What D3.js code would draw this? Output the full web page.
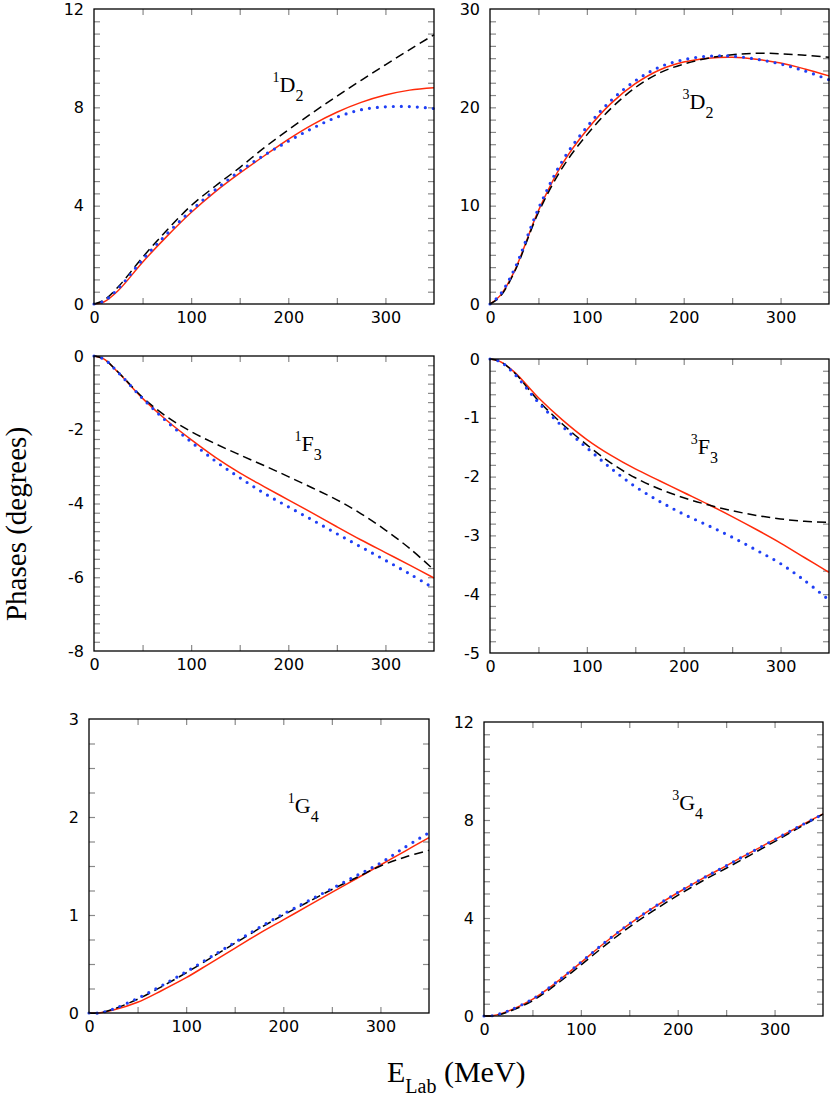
<!DOCTYPE html>
<html lang="en">
<head>
<meta charset="UTF-8">
<title>Phases (degrees) vs E_Lab</title>
<script src="https://d3js.org/d3.v7.min.js"></script>
<style>
    body { margin: 0; background: #fff; }
    svg { display: block; }
    .tick text { font-family: "DejaVu Sans", sans-serif; font-size: 16px; fill: #000; }
    .tick line { stroke: #8a8a8a; stroke-width: 1.2px; }
    .serif { font-family: "Liberation Serif", "Times New Roman", serif; fill: #000; }
</style>
</head>
<body>
<svg width="830" height="1098"></svg>
<script>
    // lab energies (MeV) where the curves were read
    const energies = [0, 10, 25, 50, 75, 100, 125, 150, 175, 200, 225, 250, 275, 300, 325, 350];
    const xTickLabels = [0, 100, 200, 300];

    // 1D2
    const dashed1D2 = [0, 0.15, 0.7, 1.9, 3.0, 4.0, 4.8, 5.55, 6.35, 7.08, 7.78, 8.45, 9.1, 9.73, 10.35, 10.95];
    const solid1D2  = [0, 0.08, 0.55, 1.7, 2.75, 3.72, 4.57, 5.32, 6.02, 6.7, 7.3, 7.8, 8.2, 8.5, 8.7, 8.8];
    const dotted1D2 = [0, 0.11, 0.63, 1.8, 2.85, 3.8, 4.65, 5.4, 6.05, 6.62, 7.15, 7.6, 7.9, 8.02, 8.03, 7.95];
    const yLabels1D2 = [0, 4, 8, 12];

    // 3D2
    const dashed3D2 = [0, 0.7, 3.2, 9.3, 13.9, 17.2, 19.9, 22.0, 23.5, 24.4, 25.0, 25.35, 25.5, 25.45, 25.3, 25.1];
    const solid3D2  = [0, 0.8, 3.3, 9.5, 14.3, 17.7, 20.4, 22.4, 23.8, 24.6, 25.0, 25.1, 24.9, 24.5, 23.9, 23.2];
    const dotted3D2 = [0, 0.9, 3.5, 9.7, 14.6, 18.0, 20.7, 22.7, 24.1, 24.85, 25.2, 25.2, 24.9, 24.4, 23.7, 22.8];
    const yLabels3D2 = [0, 10, 20, 30];

    // 1F3
    const dashed1F3 = [0, -0.08, -0.44, -1.12, -1.65, -2.05, -2.38, -2.68, -2.97, -3.27, -3.58, -3.9, -4.28, -4.72, -5.22, -5.8];
    const solid1F3  = [0, -0.08, -0.45, -1.15, -1.75, -2.27, -2.75, -3.17, -3.54, -3.9, -4.26, -4.63, -4.99, -5.33, -5.67, -6.02];
    const dotted1F3 = [0, -0.08, -0.45, -1.15, -1.78, -2.33, -2.85, -3.3, -3.72, -4.09, -4.45, -4.82, -5.18, -5.54, -5.91, -6.3];
    const yLabels1F3 = [0, -2, -4, -6, -8];

    // 3F3
    const dashed3F3 = [0, -0.04, -0.23, -0.71, -1.11, -1.46, -1.77, -2.02, -2.21, -2.36, -2.48, -2.58, -2.66, -2.72, -2.76, -2.78];
    const solid3F3  = [0, -0.04, -0.22, -0.66, -1.04, -1.37, -1.64, -1.87, -2.07, -2.27, -2.47, -2.68, -2.9, -3.13, -3.38, -3.63];
    const dotted3F3 = [0, -0.04, -0.25, -0.74, -1.15, -1.51, -1.86, -2.17, -2.42, -2.64, -2.83, -3.03, -3.25, -3.48, -3.77, -4.1];
    const yLabels3F3 = [0, -1, -2, -3, -4, -5];

    // 1G4
    const dashed1G4 = [0, 0, 0.04, 0.14, 0.27, 0.41, 0.56, 0.71, 0.86, 1.0, 1.13, 1.26, 1.38, 1.5, 1.59, 1.66];
    const solid1G4  = [0, 0, 0.03, 0.11, 0.23, 0.36, 0.51, 0.66, 0.81, 0.95, 1.09, 1.23, 1.37, 1.51, 1.65, 1.79];
    const dotted1G4 = [0, 0, 0.04, 0.15, 0.28, 0.42, 0.57, 0.72, 0.87, 1.01, 1.14, 1.27, 1.4, 1.53, 1.69, 1.84];
    const yLabels1G4 = [0, 1, 2, 3];

    // 3G4
    const dashed3G4 = [0, 0.01, 0.17, 0.62, 1.3, 2.08, 2.88, 3.63, 4.3, 4.92, 5.5, 6.03, 6.57, 7.12, 7.68, 8.24];
    const solid3G4  = [0, 0.02, 0.2, 0.68, 1.38, 2.18, 3.0, 3.75, 4.42, 5.03, 5.6, 6.13, 6.67, 7.2, 7.73, 8.25];
    const dotted3G4 = [0, 0.02, 0.21, 0.69, 1.39, 2.19, 3.01, 3.76, 4.43, 5.04, 5.6, 6.13, 6.67, 7.2, 7.73, 8.24];
    const yLabels3G4 = [0, 4, 8, 12];

    const svg = d3.select("svg");

    // panel layout (pixels) and where the wave label sits (data units)
    const panels = [
        { spin: "1", L: "D", J: "2", left: 94, top: 9, w: 340, h: 295, yLabels: yLabels1D2, minor: 0.5,
          dashed: dashed1D2, solid: solid1D2, dotted: dotted1D2, labelAt: [191, 8.62] },
        { spin: "3", L: "D", J: "2", left: 490, top: 9, w: 339, h: 295, yLabels: yLabels3D2, minor: 1.25,
          dashed: dashed3D2, solid: solid3D2, dotted: dotted3D2, labelAt: [206, 19.86] },
        { spin: "1", L: "F", J: "3", left: 94, top: 356, w: 340, h: 295, yLabels: yLabels1F3, minor: 0.25,
          dashed: dashed1F3, solid: solid1F3, dotted: dotted1F3, labelAt: [213.5, -2.57] },
        { spin: "3", L: "F", J: "3", left: 490, top: 359, w: 339, h: 294, yLabels: yLabels3F3, minor: 0.2,
          dashed: dashed3F3, solid: solid3F3, dotted: dotted3F3, labelAt: [214.4, -1.61] },
        { spin: "1", L: "G", J: "4", left: 89, top: 719, w: 340, h: 294, yLabels: yLabels1G4, minor: 0.25,
          dashed: dashed1G4, solid: solid1G4, dotted: dotted1G4, labelAt: [211.8, 2.04] },
        { spin: "3", L: "G", J: "4", left: 484, top: 722, w: 339, h: 294, yLabels: yLabels3G4, minor: 0.5,
          dashed: dashed3G4, solid: solid3G4, dotted: dotted3G4, labelAt: [201.5, 8.41] }
    ];

    panels.forEach(p => {
        const g = svg.append("g").attr("transform", `translate(${p.left},${p.top})`);
        const yExt = d3.extent(p.yLabels);

        const x = d3.scaleLinear().domain([0, 350]).range([0, p.w]);
        const y = d3.scaleLinear().domain(yExt).range([p.h, 0]);

        const xTicks = d3.range(50, 350, 50);
        const yTicks = d3.range(yExt[0] + p.minor, yExt[1] - p.minor / 2, p.minor);

        // inward ticks on all four sides
        g.append("g").attr("transform", `translate(0,${p.h})`)
            .call(d3.axisTop(x).tickValues(xTicks).tickSize(6).tickFormat(""));
        g.append("g")
            .call(d3.axisBottom(x).tickValues(xTicks).tickSize(6).tickFormat(""));
        g.append("g")
            .call(d3.axisRight(y).tickValues(yTicks).tickSize(6).tickFormat(""));
        g.append("g").attr("transform", `translate(${p.w},0)`)
            .call(d3.axisLeft(y).tickValues(yTicks).tickSize(6).tickFormat(""));
        g.selectAll(".domain").remove();

        // labels (plain hyphen for negatives, as in the original)
        g.append("g").attr("transform", `translate(0,${p.h})`)
            .call(d3.axisBottom(x).tickValues(xTickLabels).tickSize(0).tickPadding(8).tickFormat(d => String(d)))
            .call(a => a.select(".domain").remove());
        g.append("g")
            .call(d3.axisLeft(y).tickValues(p.yLabels).tickSize(0).tickPadding(10).tickFormat(d => String(d)))
            .call(a => a.select(".domain").remove());

        const line = d3.line()
            .x((d, i) => x(energies[i]))
            .y(d => y(d))
            .curve(d3.curveCatmullRom.alpha(0.5));

        g.append("path").datum(p.solid)
            .attr("d", line).attr("fill", "none")
            .attr("stroke", "#ff2a0a").attr("stroke-width", 1.5);
        g.append("path").datum(p.dashed)
            .attr("d", line).attr("fill", "none")
            .attr("stroke", "#000").attr("stroke-width", 1.5)
            .attr("stroke-dasharray", "9,5");
        g.append("path").datum(p.dotted)
            .attr("d", line).attr("fill", "none")
            .attr("stroke", "#1f3ff5").attr("stroke-width", 3.2)
            .attr("stroke-linecap", "round")
            .attr("stroke-dasharray", "0,8");

        // frame
        g.append("rect")
            .attr("width", p.w).attr("height", p.h)
            .attr("fill", "none").attr("stroke", "#000").attr("stroke-width", 1.3);

        // partial wave label, e.g. 1D2
        const lx = x(p.labelAt[0]), ly = y(p.labelAt[1]);
        const t = g.append("text").attr("class", "serif")
            .attr("x", lx - 7).attr("y", ly);
        t.append("tspan").attr("font-size", 14).attr("dy", -10).text(p.spin);
        t.append("tspan").attr("font-size", 22).attr("dy", 10).text(p.L);
        t.append("tspan").attr("font-size", 16).attr("dy", 9).text(p.J);
    });

    // axis titles
    svg.append("text").attr("class", "serif")
        .attr("transform", "translate(26,524) rotate(-90)")
        .attr("text-anchor", "middle")
        .attr("font-size", 29)
        .text("Phases (degrees)");

    const xt = svg.append("text").attr("class", "serif")
        .attr("x", 387).attr("y", 1082)
        .attr("font-size", 30);
    xt.append("tspan").text("E");
    xt.append("tspan").attr("font-size", 20).attr("dy", 11).text("Lab");
    xt.append("tspan").attr("dy", -11).text(" (MeV)");
</script>
</body>
</html>
